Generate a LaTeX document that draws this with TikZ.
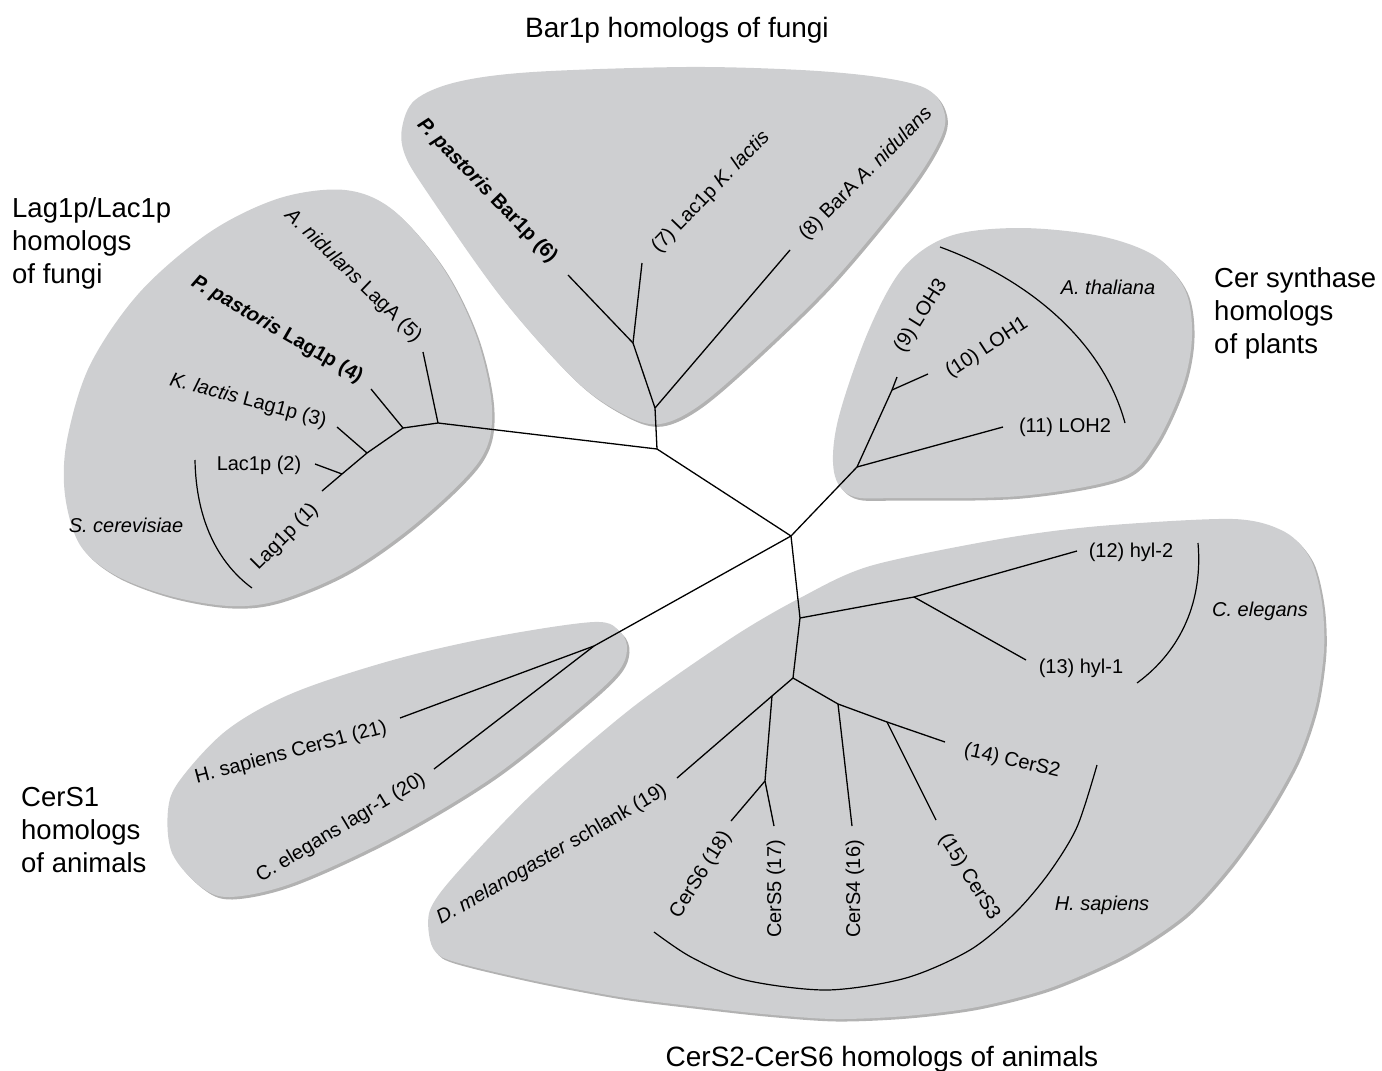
\documentclass[tikz,border=0pt]{standalone}
\usepackage{fontspec}
\setmainfont{Liberation Sans}
\usetikzlibrary{shadows}
\definecolor{blobgray}{RGB}{206,207,209}
\begin{document}
\begin{tikzpicture}[x=1pt,y=-1pt,
  blobshape/.style={fill=blobgray, drop shadow={shadow xshift=2.5pt,shadow yshift=-2.5pt,opacity=0.3,fill=black}},
  branch/.style={line width=1.3pt, line join=round},
  arcline/.style={line width=1.2pt},
  lbl/.style={font=\fontsize{20}{24}\selectfont, inner sep=0pt},
  boldlbl/.style={font=\fontsize{20}{24}\selectfont\bfseries, inner sep=0pt},
  heading/.style={font=\fontsize{27.5}{33}\selectfont, inner sep=0pt, align=left},
  title/.style={font=\fontsize{28}{33}\selectfont, inner sep=0pt}]
\useasboundingbox (0,0) rectangle (1382,1071);

% ---------- group backgrounds ----------
\path[blobshape] plot[smooth cycle, tension=0.55] coordinates {
 (345,190) (393,210) (443,268) (477,338) (492,410) (480,460) (420,520) (350,570)
 (280,600) (230,606) (170,596) (115,575) (80,545) (65,495) (67,440) (90,365)
 (140,292) (210,232) (280,198)};
\path[blobshape] plot[smooth cycle, tension=0.55] coordinates {
 (402,128) (415,100) (457,82) (533,72) (686,67) (801,70) (878,77) (925,88)
 (943,108) (942,135) (910,188) (834,280) (760,353) (700,405) (660,424) (625,415)
 (575,380) (501,297) (427,192) (405,155)};
\path[blobshape] plot[smooth cycle, tension=0.55] coordinates {
 (903,268) (950,236) (1020,228) (1100,236) (1155,256) (1185,290) (1192,335)
 (1183,385) (1155,445) (1120,478) (1020,496) (900,498) (852,496) (834,472)
 (838,420) (868,332)};
\path[blobshape] plot[smooth cycle, tension=0.55] coordinates {
 (620,632) (594,622) (493,637) (393,660) (293,693) (227,730) (180,780) (168,810)
 (172,853) (200,886) (230,897) (293,883) (393,837) (493,777) (577,710) (617,673)
 (627,650)};
\path[blobshape] plot[smooth cycle, tension=0.5] coordinates {
 (430,940) (430,910) (455,875) (533,793) (633,707) (733,637) (800,598) (870,566)
 (1000,539) (1100,526) (1233,519) (1285,532) (1311,560) (1322,603) (1324,650)
 (1316,705) (1298,758) (1268,812) (1230,866) (1185,915) (1125,955) (1050,988)
 (977,1007) (906,1016) (834,1019) (763,1014) (691,1006) (620,997) (540,982)
 (470,966) (440,956)};

% ---------- tree points ----------
\coordinate (A) at (657,449);
\coordinate (C) at (791,536);
\coordinate (L0) at (438,423);
\coordinate (L1) at (403,428);
\coordinate (L2) at (367,453);
\coordinate (L3) at (342,474);
\coordinate (n1) at (322,491);
\coordinate (n2) at (315,464);
\coordinate (n3) at (337,427);
\coordinate (n4) at (371,389);
\coordinate (n5) at (423,352);
\coordinate (B0) at (655,408);
\coordinate (B1) at (633,343);
\coordinate (n6) at (568,275);
\coordinate (n7) at (642,263);
\coordinate (n8) at (790,250);
\coordinate (P0) at (857,467);
\coordinate (P1) at (892,390);
\coordinate (n9) at (897,377);
\coordinate (n10) at (928,374);
\coordinate (n11) at (1003,427);
\coordinate (J1) at (594,646);
\coordinate (n21) at (400,718);
\coordinate (n20) at (434,769);
\coordinate (D) at (800,618);
\coordinate (H0) at (914,597);
\coordinate (n12) at (1077,551);
\coordinate (n13) at (1026,660);
\coordinate (E) at (793,678);
\coordinate (F) at (772,696);
\coordinate (n19) at (677,778);
\coordinate (G) at (765,781);
\coordinate (n18) at (731,821);
\coordinate (n17) at (774,826);
\coordinate (K) at (838,704);
\coordinate (n16) at (852,826);
\coordinate (M) at (887,722);
\coordinate (n15) at (936,820);
\coordinate (n14) at (945,742);

% ---------- branches ----------
\draw[branch] (A) -- (C);
\draw[branch] (A) -- (L0) -- (L1) -- (L2) -- (L3) -- (n1);
\draw[branch] (L0) -- (n5);
\draw[branch] (L1) -- (n4);
\draw[branch] (L2) -- (n3);
\draw[branch] (L3) -- (n2);
\draw[branch] (A) -- (B0) -- (B1) -- (n7);
\draw[branch] (B1) -- (n6);
\draw[branch] (B0) -- (n8);
\draw[branch] (C) -- (P0) -- (P1) -- (n9);
\draw[branch] (P1) -- (n10);
\draw[branch] (P0) -- (n11);
\draw[branch] (C) -- (J1) -- (n21);
\draw[branch] (J1) -- (n20);
\draw[branch] (C) -- (D) -- (E);
\draw[branch] (D) -- (H0) -- (n12);
\draw[branch] (H0) -- (n13);
\draw[branch] (E) -- (F) -- (n19);
\draw[branch] (F) -- (G) -- (n18);
\draw[branch] (G) -- (n17);
\draw[branch] (E) -- (K) -- (M) -- (n14);
\draw[branch] (K) -- (n16);
\draw[branch] (M) -- (n15);

% ---------- species brackets ----------
\coordinate (sc1) at (195,460); \coordinate (sc2) at (252,588);
\coordinate (at1) at (940,247); \coordinate (at2) at (1125,423);
\coordinate (ce1) at (1198,543); \coordinate (ce2) at (1137,683);
\draw[arcline] (sc1) .. controls (196,520) and (218,563) .. (sc2);
\draw[arcline] (at1) .. controls (1030,280) and (1103,342) .. (at2);
\draw[arcline] (ce1) .. controls (1203,600) and (1182,650) .. (ce2);
\draw[arcline] plot[smooth] coordinates {(1097,765) (1077,827) (1049,873) (1015,913) (970,950) (906,978) (827,990) (745,980) (691,957) (654,932)};

% ---------- leaf labels ----------
\node[lbl, rotate=-44] (t5) at (353,276) {\textit{A. nidulans} LagA (5)};
\node[boldlbl, rotate=-30] (t4) at (277,330) {\textit{P. pastoris} Lag1p (4)};
\node[lbl, rotate=-15] (t3) at (248,401) {\textit{K. lactis} Lag1p (3)};
\node[lbl] (t2) at (259,465) {Lac1p (2)};
\node[lbl, rotate=45] (t1) at (285,537) {Lag1p (1)};
\node[lbl] (sc) at (126,525) {\textit{S. cerevisiae}};

\node[boldlbl, rotate=-46] (t6) at (487,191) {\textit{P. pastoris} Bar1p (6)};
\node[lbl, rotate=46] (t7) at (711,192) {(7) Lac1p \textit{K. lactis}};
\node[lbl, rotate=45] (t8) at (866,174) {(8) BarA \textit{A. nidulans}};

\node[lbl, rotate=58] (t9) at (921,316) {(9) LOH3};
\node[lbl, rotate=33] (t10) at (987,348) {(10) LOH1};
\node[lbl] (t11) at (1065,427) {(11) LOH2};
\node[lbl] (at) at (1108,287) {\textit{A. thaliana}};

\node[lbl, rotate=15] (t21) at (291,753) {H. sapiens CerS1 (21)};
\node[lbl, rotate=31] (t20) at (341,828) {C. elegans lagr-1 (20)};

\node[lbl] (t12) at (1131,552) {(12) hyl-2};
\node[lbl] (t13) at (1081,668) {(13) hyl-1};
\node[lbl] (ce) at (1260,611) {\textit{C. elegans}};
\node[lbl, rotate=-13] (t14) at (1012,761) {(14) CerS2};
\node[lbl, rotate=-58] (t15) at (969,877) {(15) CerS3};
\node[lbl] (hs) at (1102,905) {\textit{H. sapiens}};
\node[lbl, rotate=90] (t16) at (855,889) {CerS4 (16)};
\node[lbl, rotate=90] (t17) at (776,889) {CerS5 (17)};
\node[lbl, rotate=58] (t18) at (701,875) {CerS6 (18)};
\node[lbl, rotate=30] (t19) at (552,855) {\textit{D. melanogaster} schlank (19)};

% ---------- group headings ----------
\node[title, anchor=base] (hbar) at (677,37) {Bar1p homologs of fungi};
\node[heading, anchor=north west] (hlag) at (12,197) {Lag1p/Lac1p\\homologs\\of fungi};
\node[heading, anchor=north west] (hcer) at (1214,267) {Cer synthase\\homologs\\of plants};
\node[heading, anchor=north west] (hcs1) at (21,787) {CerS1\\homologs\\of animals};
\node[title, anchor=base] (hcs26) at (882,1066) {CerS2-CerS6 homologs of animals};
\end{tikzpicture}
\end{document}
